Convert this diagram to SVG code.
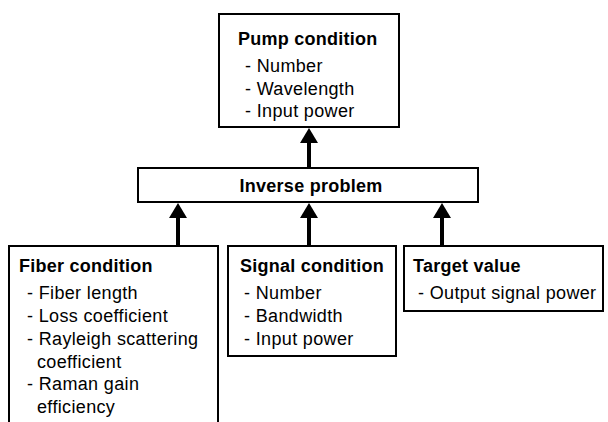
<svg xmlns="http://www.w3.org/2000/svg" width="608" height="422" viewBox="0 0 608 422">
<style>
.box{fill:#fff;stroke:#000;stroke-width:2}
.h{font-family:"Liberation Sans",Arial,Helvetica,sans-serif;font-weight:bold;font-size:18px;letter-spacing:0.25px;fill:#000}
.t{font-family:"Liberation Sans",Arial,Helvetica,sans-serif;font-size:18px;letter-spacing:0.35px;fill:#000}
.c{stroke:#000;stroke-width:4;fill:none}
</style>
<defs>
<marker id="ah" viewBox="0 0 15 18" refX="7" refY="9" markerWidth="15" markerHeight="18" markerUnits="userSpaceOnUse" orient="auto">
<path d="M0,0 L15,9 L0,18 z" fill="#000"/>
</marker>
</defs>
<rect width="608" height="422" fill="#fff"/>
<g id="pump">
<rect class="box" x="219" y="14" width="180" height="113"/>
<text class="h" x="238" y="45">Pump condition</text>
<text class="t" x="245" y="72">- Number</text>
<text class="t" x="245" y="94.5">- Wavelength</text>
<text class="t" x="245" y="117">- Input power</text>
</g>
<g id="inverse">
<rect class="box" x="138" y="168" width="340" height="34"/>
<text class="h" x="311" y="192" text-anchor="middle">Inverse problem</text>
</g>
<g id="fiber">
<rect class="box" x="9" y="246" width="209" height="190"/>
<text class="h" x="19" y="272">Fiber condition</text>
<text class="t" x="27" y="299">- Fiber length</text>
<text class="t" x="27" y="322">- Loss coefficient</text>
<text class="t" x="27" y="345">- Rayleigh scattering</text>
<text class="t" x="37" y="368">coefficient</text>
<text class="t" x="27" y="390">- Raman gain</text>
<text class="t" x="37" y="412.5">efficiency</text>
</g>
<g id="signal">
<rect class="box" x="228" y="246" width="168" height="110"/>
<text class="h" x="240" y="272">Signal condition</text>
<text class="t" x="244" y="299">- Number</text>
<text class="t" x="244" y="322">- Bandwidth</text>
<text class="t" x="244" y="345">- Input power</text>
</g>
<g id="target">
<rect class="box" x="404" y="246" width="199" height="65"/>
<text class="h" x="413" y="272">Target value</text>
<text class="t" x="418" y="299">- Output signal power</text>
</g>
<g id="connectors">
<line class="c" x1="309" y1="167" x2="309" y2="136" marker-end="url(#ah)"/>
<line class="c" x1="178" y1="246" x2="178" y2="211" marker-end="url(#ah)"/>
<line class="c" x1="309" y1="246" x2="309" y2="211" marker-end="url(#ah)"/>
<line class="c" x1="442" y1="246" x2="442" y2="211" marker-end="url(#ah)"/>
</g>
</svg>
